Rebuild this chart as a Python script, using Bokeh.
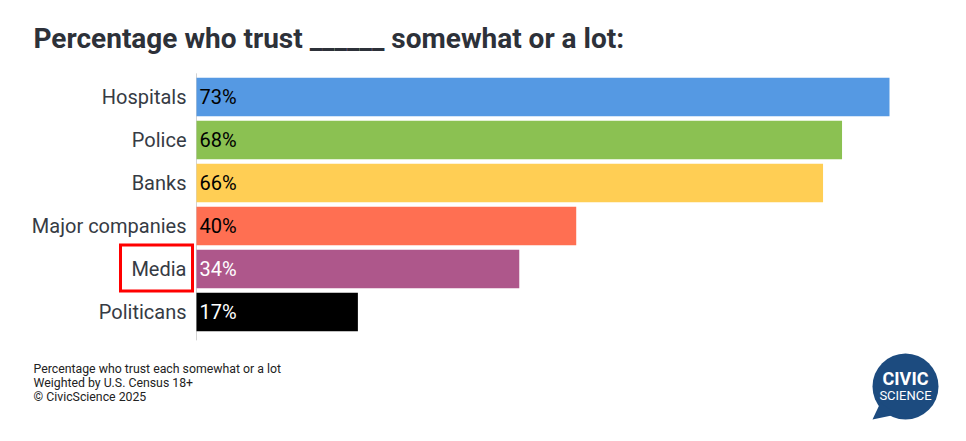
from bokeh.plotting import figure
from bokeh.models import ColumnDataSource, Range1d
from bokeh.embed import file_html
from bokeh.resources import INLINE
from bokeh.core.properties import value

# ---- data ----
categories = ["Hospitals", "Police", "Banks", "Major companies", "Media", "Politicans"]
values = [73, 68, 66, 40, 34, 17]
value_labels = ["73%", "68%", "66%", "40%", "34%", "17%"]
highlighted = "Media"

title_text = "Percentage who trust ______ somewhat or a lot:"
footer_lines = ["Percentage who trust each somewhat or a lot",
                "Weighted by U.S. Census 18+",
                "\u00a9 CivicScience 2025"]

# ---- styles ----
bar_colors = ["#5599e3", "#8bc152", "#ffce54", "#ff6f52", "#ae578b", "#000000"]
label_colors = ["#000000", "#000000", "#000000", "#000000", "#ffffff", "#ffffff"]
FONT = "Roboto"
W, H = 966, 441

# layout (pixels on the canvas)
AXIS_X = 196          # where 0 % sits
MAX_X = 889           # where the largest value ends
FIRST_Y = 96.5        # centre of first bar
STEP = 43             # px between bars
px_per_unit = (MAX_X - AXIS_X) / max(values)

positions = list(range(len(categories)))

p = figure(width=W, height=H, output_backend="svg", toolbar_location=None,
           x_range=Range1d(-AXIS_X / px_per_unit, (W - AXIS_X) / px_per_unit),
           y_range=Range1d((H - FIRST_Y) / STEP, -FIRST_Y / STEP),
           min_border=0)
p.extra_x_ranges = {"px": Range1d(0, W)}
p.extra_y_ranges = {"px": Range1d(H, 0)}
p.background_fill_color = "white"
p.border_fill_color = "white"
p.outline_line_color = None
p.grid.visible = False
p.axis.visible = False

src = ColumnDataSource(dict(
    y=positions, v=values, lab=value_labels, cat=categories,
    color=bar_colors, tcolor=label_colors,
))

# axis line at 0 %
p.segment(x0=[0], x1=[0], y0=[-0.55], y1=[len(categories) - 0.34],
          line_color="#d3d3d3", line_width=1)

p.hbar(y="y", left=0, right="v", height=0.9, fill_color="color", line_color=None, source=src)
p.text(x=0, y="y", text="lab", x_offset=3, text_color="tcolor", text_baseline="middle",
       text_align="left", text_font=value(FONT), text_font_size="20px", source=src)
# category labels
p.text(x=0, y="y", text="cat", x_offset=-10, text_color="#363b44", text_baseline="middle",
       text_align="right", text_font=value(FONT), text_font_size="20px", source=src)

# highlight box around the highlighted category label
hi = categories.index(highlighted)
p.quad(left=[120], right=[192], top=[hi - 0.56], bottom=[hi + 0.51],
       x_range_name="px", fill_color=None, line_color="#ff0000", line_width=3,
       line_join="miter")

# title
p.text(x=[33], y=[38], text=[title_text], x_range_name="px", y_range_name="px",
       text_font=value(FONT), text_font_size="28px", text_font_style="bold",
       text_color="#2d3139", text_baseline="middle", text_align="left")

# footer
p.text(x=[33] * 3, y=[368, 382, 396], text=footer_lines, x_range_name="px", y_range_name="px",
       text_font=value(FONT), text_font_size="12.3px", text_color="#222222",
       text_baseline="middle", text_align="left")

# logo
logo_color = "#1c4b7f"
p.circle(x=[905], y=[386], radius=33, x_range_name="px", y_range_name="px",
         fill_color=logo_color, line_color=None)
p.patch(x=[880, 872, 896], y=[402, 419, 414], x_range_name="px", y_range_name="px",
        fill_color=logo_color, line_color=None)
p.text(x=[905], y=[378], text=["CIVIC"], x_range_name="px", y_range_name="px",
       text_font=value(FONT), text_font_size="18px", text_font_style="bold",
       text_color="white", text_align="center", text_baseline="middle")
p.text(x=[905], y=[395], text=["SCIENCE"], x_range_name="px", y_range_name="px",
       text_font=value(FONT), text_font_size="13px",
       text_color="white", text_align="center", text_baseline="middle")

open("out.html", "w").write(file_html(p, INLINE))
